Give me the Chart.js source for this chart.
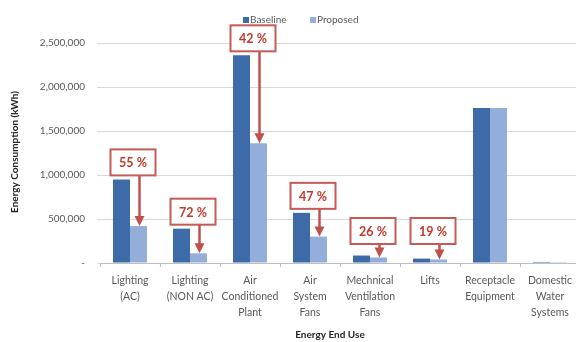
<!DOCTYPE html>
<html>
<head>
<meta charset="utf-8">
<script src="https://cdn.jsdelivr.net/npm/chart.js@4/dist/chart.umd.min.js"></script>
<style>
html,body{margin:0;padding:0;background:#fff;overflow:hidden;width:576px;height:342px;}
#wrap{width:584px;height:342px;}
</style>
</head>
<body>
<div id="wrap"><canvas id="c" width="584" height="342"></canvas></div>
<script>
// ---- data ----
const categories = [
  ["Lighting", "(AC)"],
  ["Lighting", "(NON AC)"],
  ["Air", "Conditioned", "Plant"],
  ["Air", "System", "Fans"],
  ["Mechnical", "Ventilation", "Fans"],
  ["Lifts"],
  ["Receptacle", "Equipment"],
  ["Domestic", "Water", "Systems"]
];
const seriesNames = ["Baseline", "Proposed"];
const baseline = [950000, 390000, 2360000, 570000, 85000, 50000, 1760000, 12000];
const proposed = [420000, 110000, 1360000, 300000, 63000, 40000, 1760000, 10000];
const savingsLabels = ["55 %", "72 %", "42 %", "47 %", "26 %", "19 %", null, null];
const yTicks = [0, 500000, 1000000, 1500000, 2000000, 2500000];
const yTitle = "Energy Consumption (kWh)";
const xTitle = "Energy End Use";

// ---- styles ----
const FONT = "Lato, 'Open Sans', sans-serif";
const colors = ["#3D6BA8", "#93AED8"];
const RED = "#C0504D";
const RED_TEXT = "#C0392B";
const GREY = "#595959";

const overlay = {
  id: "overlay",
  afterDatasetsDraw(chart) {
    const ctx = chart.ctx;
    const m0 = chart.getDatasetMeta(0), m1 = chart.getDatasetMeta(1);
    const yZero = chart.scales.y.getPixelForValue(0);
    ctx.save();
    savingsLabels.forEach((lab, i) => {
      if (!lab) return;
      const b = m0.data[i], p = m1.data[i];
      const cx = (b.x + p.x) / 2 + 3;
      const bw = 45, bh = 26;
      const bottom = Math.min(b.y - 4, yZero - 19);
      const top = bottom - bh;
      // arrow
      const ax = p.x + 1;
      const tip = p.y;
      ctx.strokeStyle = RED; ctx.fillStyle = RED; ctx.lineWidth = 2.5;
      ctx.beginPath(); ctx.moveTo(ax, bottom); ctx.lineTo(ax, tip - 7); ctx.stroke();
      ctx.beginPath(); ctx.moveTo(ax - 5, tip - 10); ctx.lineTo(ax + 5, tip - 10); ctx.lineTo(ax, tip); ctx.closePath(); ctx.fill();
      // box
      ctx.fillStyle = "#fff";
      ctx.fillRect(cx - bw / 2, top, bw, bh);
      ctx.lineWidth = 2; ctx.strokeStyle = "#C55A57";
      ctx.strokeRect(cx - bw / 2, top, bw, bh);
      ctx.fillStyle = RED_TEXT;
      ctx.font = "bold 12.5px " + FONT;
      ctx.textAlign = "center"; ctx.textBaseline = "middle";
      ctx.fillText(lab, cx, top + bh / 2 + 1);
    });
    ctx.restore();
  },
  afterDraw(chart) {
    const ctx = chart.ctx;
    ctx.save();
    // legend
    ctx.font = "10px " + FONT;
    ctx.textBaseline = "middle"; ctx.textAlign = "left";
    const lx = [243, 310];
    seriesNames.forEach((n, i) => {
      ctx.fillStyle = colors[i];
      ctx.fillRect(lx[i], 17, 6, 6);
      ctx.fillStyle = GREY;
      ctx.fillText(n, lx[i] + 7, 20);
    });
    // axis titles
    ctx.fillStyle = "#262626";
    ctx.font = "bold 10px " + FONT;
    ctx.textAlign = "center";
    ctx.fillText(xTitle, 330, 335);
    ctx.translate(15, 152);
    ctx.rotate(-Math.PI / 2);
    ctx.fillText(yTitle, 0, 0);
    ctx.restore();
  }
};

new Chart(document.getElementById("c"), {
  type: "bar",
  data: {
    labels: categories,
    datasets: [
      { label: seriesNames[0], data: baseline, backgroundColor: colors[0] },
      { label: seriesNames[1], data: proposed, backgroundColor: colors[1] }
    ]
  },
  options: {
    responsive: false,
    devicePixelRatio: 1,
    animation: false,
    categoryPercentage: 0.567,
    barPercentage: 1,
    layout: { padding: { top: 43, right: 4, left: 0, bottom: 0 } },
    plugins: { legend: { display: false }, tooltip: { enabled: false } },
    scales: {
      x: {
        afterFit(s) { s.height = 79; },
        grid: { display: true, drawOnChartArea: false, drawTicks: true, tickLength: 4, offset: true, color: "#BFBFBF" },
        border: { display: true, color: "#BFBFBF", width: 1 },
        ticks: { color: GREY, font: { family: FONT, size: 10.5, lineHeight: 1.55 }, padding: 5, maxRotation: 0, autoSkip: false }
      },
      y: {
        min: 0, max: 2500000,
        afterFit(s) { s.width = 100; },
        afterBuildTicks(s) { s.ticks = yTicks.map(v => ({ value: v })); },
        grid: { color: "#D9D9D9", tickLength: 3, drawTicks: true },
        border: { display: false },
        ticks: {
          color: GREY, padding: 12,
          font: { family: FONT, size: 10 },
          callback: v => v === 0 ? "-" : v.toLocaleString("en-US")
        }
      }
    }
  },
  plugins: [overlay]
});
</script>
</body>
</html>
